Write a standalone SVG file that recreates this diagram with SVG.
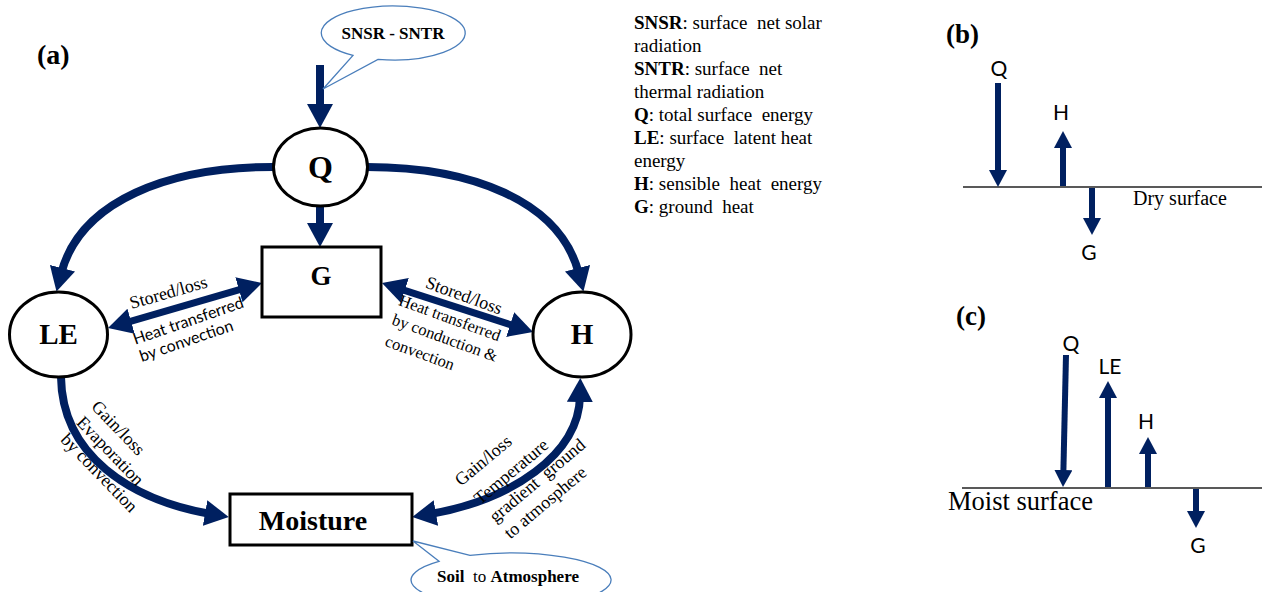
<svg xmlns="http://www.w3.org/2000/svg" width="1262" height="592" viewBox="0 0 1262 592">
<style>
.serif{font-family:"Liberation Serif","Times New Roman",serif;fill:#000}
.sans{font-family:Lato,"Open Sans",sans-serif;fill:#000}
.b{font-weight:bold}
.pre{white-space:pre}
.node{fill:#fff;stroke:#000;stroke-width:3}
.bubble{fill:#fff;stroke:#4a7ebb;stroke-width:1.3}
.flow{fill:none;stroke:#002060;stroke-width:8}
.flow2{fill:none;stroke:#002060;stroke-width:7}
.small{fill:none;stroke:#002060;stroke-width:6}
.surf{stroke:#222;stroke-width:1.5}
</style>
<defs>
<marker id="ah" viewBox="0 0 24 26" markerUnits="userSpaceOnUse" markerWidth="24" markerHeight="26" refX="6" refY="13" orient="auto-start-reverse">
<path d="M0,0 L24,13 L0,26 Z" fill="#002060"/>
</marker>
<marker id="as" viewBox="0 0 17 18" markerUnits="userSpaceOnUse" markerWidth="17" markerHeight="18" refX="5" refY="9" orient="auto-start-reverse">
<path d="M0,0 L17,9 L0,18 Z" fill="#002060"/>
</marker>
</defs>

<text class="serif b" x="37" y="64" font-size="28">(a)</text>

<g id="connectors">
<path class="flow" d="M320,65 V110" marker-end="url(#ah)"/>
<path class="flow" d="M320,206 V229" marker-end="url(#ah)"/>
<path class="flow" d="M273,167 C170,167 80,200 61,274" marker-end="url(#ah)"/>
<path class="flow" d="M367,167 C470,167 560,200 579,274" marker-end="url(#ah)"/>
<path class="flow" d="M61,377 C62,455 130,500 211,514" marker-end="url(#ah)"/>
<path class="flow" d="M430,514 C511,500 579,455 580,396" marker-start="url(#ah)" marker-end="url(#ah)"/>
<path class="flow2" d="M125.3,322.9 L244.7,288.1" marker-start="url(#ah)" marker-end="url(#ah)"/>
<path class="flow2" d="M399.1,288.6 L515.9,326.4" marker-start="url(#ah)" marker-end="url(#ah)"/>
</g>

<g id="bubble-top">
<path class="bubble" d="M353,55.4 A72,27 0 1 1 378,59.4 L323,89 Z"/>
<text class="serif b" x="393" y="39" font-size="17" text-anchor="middle">SNSR - SNTR</text>
</g>

<g id="node-Q">
<ellipse class="node" cx="320.5" cy="167" rx="47" ry="39"/>
<text class="serif b" x="320.5" y="178" font-size="32" text-anchor="middle">Q</text>
</g>
<g id="node-G">
<rect class="node" x="262" y="247" width="119" height="70"/>
<text class="serif b" x="321" y="285" font-size="27" text-anchor="middle">G</text>
</g>
<g id="node-LE">
<ellipse class="node" cx="58.5" cy="334.5" rx="49" ry="42.5"/>
<text class="serif b" x="58.5" y="344" font-size="29" text-anchor="middle">LE</text>
</g>
<g id="node-H">
<ellipse class="node" cx="582" cy="334.5" rx="49" ry="42.5"/>
<text class="serif b" x="582" y="344" font-size="29" text-anchor="middle">H</text>
</g>
<g id="node-Moisture">
<rect class="node" x="230" y="494" width="182" height="51"/>
<text class="serif b" x="313" y="530" font-size="28" text-anchor="middle">Moisture</text>
</g>
<g id="bubble-bottom">
<path class="bubble" d="M470,555.4 A100,27 0 1 1 439,561.3 L413,541 Z"/>
<text class="serif pre" x="508" y="582" font-size="17" text-anchor="middle" xml:space="preserve"><tspan class="b">Soil</tspan>  to <tspan class="b">Atmosphere</tspan></text>
</g>

<g id="labels">
<text class="serif" font-size="18" text-anchor="middle" transform="translate(170,298) rotate(-16)">Stored/loss</text>
<text class="sans" font-size="16" text-anchor="middle" transform="translate(190,326) rotate(-19)">Heat transferred</text>
<text class="sans" font-size="16" text-anchor="middle" transform="translate(188,346) rotate(-19)">by convection</text>
<text class="serif" font-size="18" text-anchor="middle" transform="translate(462,301) rotate(20)">Stored/loss</text>
<text class="serif" font-size="16.5" text-anchor="middle" transform="translate(448,323) rotate(20)">Heat transferred</text>
<text class="serif" font-size="16.5" text-anchor="middle" transform="translate(443,343) rotate(20)">by conduction &amp;</text>
<text class="serif" font-size="16.5" text-anchor="middle" transform="translate(418,358) rotate(20)">convection</text>
<text class="serif" font-size="18" text-anchor="middle" transform="translate(114,432) rotate(46)">Gain/loss</text>
<text class="serif" font-size="18" text-anchor="middle" transform="translate(106,455) rotate(46)">Evaporation</text>
<text class="serif" font-size="18" text-anchor="middle" transform="translate(95,477) rotate(46)">by convection</text>
<text class="serif" font-size="18" text-anchor="middle" transform="translate(487,465) rotate(-40)">Gain/loss</text>
<text class="serif" font-size="18" text-anchor="middle" transform="translate(515,476) rotate(-40)">Temperature</text>
<text class="serif pre" font-size="18" text-anchor="middle" transform="translate(541,485) rotate(-40)" xml:space="preserve">gradient  ground</text>
<text class="serif" font-size="18" text-anchor="middle" transform="translate(549,507) rotate(-40)">to atmosphere</text>
</g>

<g id="legend" class="serif" font-size="19">
<text class="pre" xml:space="preserve" x="634" y="29"><tspan class="b">SNSR</tspan>: surface  net solar</text>
<text class="pre" xml:space="preserve" x="634" y="52">radiation</text>
<text class="pre" xml:space="preserve" x="634" y="75"><tspan class="b">SNTR</tspan>: surface  net</text>
<text class="pre" xml:space="preserve" x="634" y="98">thermal radiation</text>
<text class="pre" xml:space="preserve" x="634" y="121"><tspan class="b">Q</tspan>: total surface  energy</text>
<text class="pre" xml:space="preserve" x="634" y="144"><tspan class="b">LE</tspan>: surface  latent heat</text>
<text class="pre" xml:space="preserve" x="634" y="167">energy</text>
<text class="pre" xml:space="preserve" x="634" y="190"><tspan class="b">H</tspan>: sensible  heat  energy</text>
<text class="pre" xml:space="preserve" x="634" y="213"><tspan class="b">G</tspan>: ground  heat</text>
</g>

<g id="panel-b">
<text class="serif b" x="946" y="43" font-size="27">(b)</text>
<line class="surf" x1="963" y1="187" x2="1262" y2="187"/>
<path class="small" d="M998,83 V175" marker-end="url(#as)"/>
<path class="small" d="M1063,186 V143" marker-end="url(#as)"/>
<path class="small" d="M1092,188 V223" marker-end="url(#as)"/>
<text class="sans" x="999" y="76" font-size="21" text-anchor="middle">Q</text>
<text class="sans" x="1061" y="120" font-size="21" text-anchor="middle">H</text>
<text class="sans" x="1089" y="260" font-size="21" text-anchor="middle">G</text>
<text class="serif" x="1133" y="205" font-size="20">Dry surface</text>
</g>

<g id="panel-c">
<text class="serif b" x="956" y="325" font-size="27">(c)</text>
<line class="surf" x1="962" y1="488" x2="1262" y2="488"/>
<path class="small" d="M1066,355 L1063.3,475" marker-end="url(#as)"/>
<path class="small" d="M1108,487 V393" marker-end="url(#as)"/>
<path class="small" d="M1148,487 V449" marker-end="url(#as)"/>
<path class="small" d="M1196,489 V516" marker-end="url(#as)"/>
<text class="sans" x="1071" y="351" font-size="21" text-anchor="middle">Q</text>
<text class="sans" x="1110" y="374" font-size="21" text-anchor="middle">LE</text>
<text class="sans" x="1146" y="429" font-size="21" text-anchor="middle">H</text>
<text class="sans" x="1198" y="553" font-size="21" text-anchor="middle">G</text>
<text class="serif" x="948" y="510" font-size="26.5">Moist surface</text>
</g>
</svg>
